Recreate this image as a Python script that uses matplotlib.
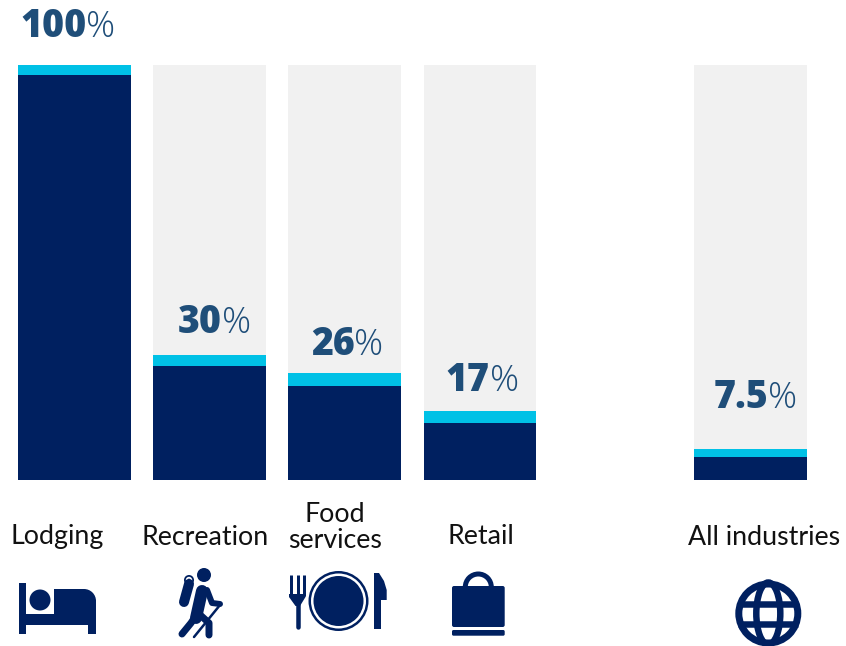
import matplotlib
matplotlib.use("Agg")
import matplotlib.pyplot as plt
from matplotlib.patches import Circle, Ellipse, Rectangle, FancyBboxPatch, Polygon, Wedge

# ---- data ----
categories = ["Lodging", "Recreation", "Food\nservices", "Retail", "All industries"]
slots = [0, 1, 2, 3, 5]
value_labels = ["100", "30", "26", "17", "7.5"]
bar_tops = [100, 30, 25.6, 16.6, 7.4]     # top of the cyan cap
navy_tops = [97.6, 27.4, 22.6, 13.6, 5.4]  # top of the navy part
scale_max = 100

NAVY = "#002060"
CYAN = "#00C1E6"
GRAY = "#F1F1F1"
LABEL = "#1F4E79"
W, H = 846, 646
SLOT = 135.2
X0 = 74.4

fig = plt.figure(figsize=(W / 100, H / 100), dpi=100)
ax = fig.add_axes([0, 0, 1, 1])
ax.set_xlim(-X0 / SLOT, (W - X0) / SLOT)
ax.set_ylim(-(H - 479.5) / 4.145, 100 + 65 / 4.145)
ax.axis("off")

bw = 112.8 / SLOT
ax.bar(slots, [scale_max] * len(slots), width=bw, color=GRAY, linewidth=0)
ax.bar(slots, bar_tops, width=bw, color=CYAN, linewidth=0)
ax.bar(slots, navy_tops, width=bw, color=NAVY, linewidth=0)

# overlay in pixel coordinates for text and pictograms
ov = fig.add_axes([0, 0, 1, 1], facecolor="none")
ov.set_xlim(0, W)
ov.set_ylim(H, 0)
ov.axis("off")

# value labels: boundary between number and % sign, baseline
label_pos = [(86.5, 37), (221.5, 333), (354.5, 355), (489.5, 391), (768.5, 408)]
for txt, (x, y) in zip(value_labels, label_pos):
    ov.text(x, y, txt, ha="right", va="baseline", fontsize=27, color=LABEL,
            family="Open Sans", fontweight=800)
    ov.text(x, y, "%", ha="left", va="baseline", fontsize=26, color=LABEL,
            family="Open Sans", fontweight="light")

# category labels
cat_pos = [(57.5, 544), (205, 545), (335, 548), (481, 544), (764, 545)]
for txt, (x, y) in zip(categories, cat_pos):
    ov.text(x, y, txt, ha="center", va="baseline", fontsize=19.3, color="#111111",
            family="Lato", linespacing=1.05, multialignment="center")


def line(xs, ys, w, color=NAVY, cap="round"):
    ov.plot(xs, ys, color=color, lw=w * 0.72, solid_capstyle=cap, solid_joinstyle="round")


# bed
ov.add_patch(Rectangle((19, 583), 7, 51, fc=NAVY, lw=0))
ov.add_patch(Rectangle((19, 614), 77, 11, fc=NAVY, lw=0))
ov.add_patch(Rectangle((88, 600), 8, 34, fc=NAVY, lw=0))
ov.add_patch(Rectangle((54, 589), 30, 26, fc=NAVY, lw=0))
ov.add_patch(Wedge((84, 601), 12, 270, 360, fc=NAVY, lw=0))
ov.add_patch(Rectangle((84, 601), 12, 14, fc=NAVY, lw=0))
ov.add_patch(Circle((40, 600), 10.5, fc=NAVY, lw=0))

# hiker
ov.add_patch(Circle((204, 575), 7, fc=NAVY, lw=0))
line([189, 184], [584, 602], 10)
ov.add_patch(Circle((189, 580), 5, fc=NAVY, lw=0))
ov.add_patch(Circle((189, 580), 3.2, fc="white", lw=0))
ov.add_patch(Circle((189, 580), 1.4, fc=NAVY, lw=0))
line([202, 196], [591, 618], 12)
line([207, 212, 220], [590, 603, 604], 6)
line([195, 191, 182], [617, 623, 634], 7)
line([198, 209, 209], [613, 623, 635], 7)
line([220, 194], [605, 637], 2.5)

# cutlery
for x in (290.5, 297.5, 304):
    line([x, x], [575, 596], 3, cap="butt")
ov.add_patch(Polygon([(289, 594), (305.5, 594), (305.5, 597), (300, 606), (295.5, 606), (289, 597)], fc=NAVY, lw=0))
line([297.7, 297.7], [604, 626.5], 4.5)
ov.add_patch(Circle((338.5, 601), 30, fc=NAVY, lw=0))
ov.add_patch(Circle((338.5, 601), 27.5, fc="white", lw=0))
ov.add_patch(Circle((338.5, 601), 25, fc=NAVY, lw=0))
ov.add_patch(Polygon([(374, 573), (379, 573), (384, 581), (386.7, 590), (386.7, 600),
                      (381, 600), (381, 629), (374, 629)], fc=NAVY, lw=0))

# shopping bag
ov.add_patch(Wedge((478.3, 587), 15.5, 180, 360, width=5, fc=NAVY, lw=0))
ov.add_patch(FancyBboxPatch((452, 586), 52.7, 41, boxstyle="round,pad=0,rounding_size=2", fc=NAVY, lw=0))
ov.add_patch(FancyBboxPatch((452, 630), 52.7, 5.7, boxstyle="round,pad=0,rounding_size=1.5", fc=NAVY, lw=0))

# globe
cx, cy = 768.3, 613.5
ov.add_patch(Circle((cx, cy), 33, fc=NAVY, lw=0))
ov.add_patch(Circle((cx, cy), 26, fc="white", lw=0))
ov.add_patch(Ellipse((cx, cy), 24, 62, fc="none", ec=NAVY, lw=6.5 * 0.72))
line([cx - 30, cx + 30], [cy - 10, cy - 10], 6.5, cap="butt")
line([cx - 30, cx + 30], [cy + 10, cy + 10], 6.5, cap="butt")

fig.savefig("out.png", dpi=100)
